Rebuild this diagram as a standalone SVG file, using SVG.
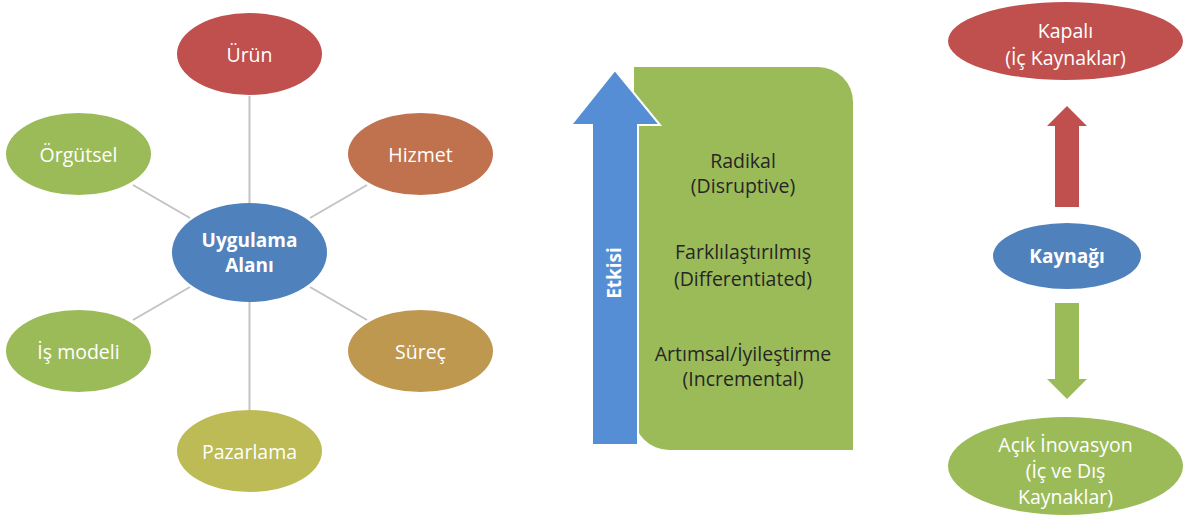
<svg xmlns="http://www.w3.org/2000/svg" width="1184" height="516" viewBox="0 0 1184 516">
<style>
.t{font-family:"Open Sans","Liberation Sans",sans-serif;font-size:19.5px;fill:#fff;text-anchor:middle;dominant-baseline:central}
.b{font-weight:bold;font-size:19px}
.d{fill:#262626;font-size:19.5px}
.ln{stroke:#c3c3c3;stroke-width:2;fill:none}
</style>
<rect width="1184" height="516" fill="#fff"/>
<g id="connectors">
<line class="ln" x1="249.5" y1="96" x2="249.5" y2="203"/>
<line class="ln" x1="249.5" y1="302" x2="249.5" y2="410"/>
<line class="ln" x1="133" y1="185" x2="190" y2="218"/>
<line class="ln" x1="367" y1="185" x2="310" y2="218"/>
<line class="ln" x1="190" y1="287" x2="133" y2="320"/>
<line class="ln" x1="310" y1="287" x2="367" y2="320"/>
</g>
<g id="urun"><ellipse cx="249.5" cy="54" rx="72.5" ry="41" fill="#c0504d"/><text class="t" x="249.5" y="54">Ürün</text></g>
<g id="orgutsel"><ellipse cx="78.5" cy="154" rx="72.5" ry="41" fill="#9bbb59"/><text class="t" x="78.5" y="154">Örgütsel</text></g>
<g id="hizmet"><ellipse cx="420.5" cy="154" rx="72.5" ry="41" fill="#c0714d"/><text class="t" x="420.5" y="154">Hizmet</text></g>
<g id="uygulama"><ellipse cx="249.5" cy="252.5" rx="77.5" ry="49.5" fill="#4f81bd"/><text class="t b" x="249.5" y="240">Uygulama</text><text class="t b" x="249.5" y="265">Alanı</text></g>
<g id="ismodeli"><ellipse cx="78.5" cy="351" rx="72.5" ry="41" fill="#9bbb59"/><text class="t" x="78.5" y="351">İş modeli</text></g>
<g id="surec"><ellipse cx="420.5" cy="351" rx="72.5" ry="41" fill="#bf9850"/><text class="t" x="420.5" y="351">Süreç</text></g>
<g id="pazarlama"><ellipse cx="249.5" cy="451" rx="72.5" ry="41" fill="#bcbb55"/><text class="t" x="249.5" y="451">Pazarlama</text></g>

<g id="levels">
<path d="M634 67 H818 A35 35 0 0 1 853 102 V450 H669 A35 35 0 0 1 634 415 Z" fill="#9bbb59"/>
<text class="t d" x="743" y="160">Radikal</text>
<text class="t d" x="743" y="185">(Disruptive)</text>
<text class="t d" x="743" y="251">Farklılaştırılmış</text>
<text class="t d" x="743" y="278">(Differentiated)</text>
<text class="t d" x="743" y="353">Artımsal/İyileştirme</text>
<text class="t d" x="743" y="378">(Incremental)</text>
</g>
<g id="etkisi">
<path d="M615 70 L660 125 H638 V445 H592 V125 H571 Z" fill="#558ed5" stroke="#fff" stroke-width="2" stroke-linejoin="miter"/>
<text class="t b" x="0" y="0" transform="translate(614,273) rotate(-90)">Etkisi</text>
</g>

<g id="kapali"><ellipse cx="1065.5" cy="41" rx="117.5" ry="39" fill="#c0504d"/><text class="t" x="1065.5" y="30">Kapalı</text><text class="t" x="1065.5" y="57">(İç Kaynaklar)</text></g>
<g id="arrows">
<path d="M1067 106 L1087 126 H1079 V207 H1055 V126 H1047 Z" fill="#c0504d"/>
<path d="M1067 399 L1087 379 H1079 V303 H1055 V379 H1047 Z" fill="#9bbb59"/>
</g>
<g id="kaynagi"><ellipse cx="1067" cy="256" rx="74" ry="33" fill="#4f81bd"/><text class="t b" x="1067" y="256">Kaynağı</text></g>
<g id="acik"><ellipse cx="1065.5" cy="466" rx="117.5" ry="49" fill="#9bbb59"/><text class="t" x="1065.5" y="444">Açık İnovasyon</text><text class="t" x="1065.5" y="470">(İç ve Dış</text><text class="t" x="1065.5" y="496">Kaynaklar)</text></g>
</svg>
